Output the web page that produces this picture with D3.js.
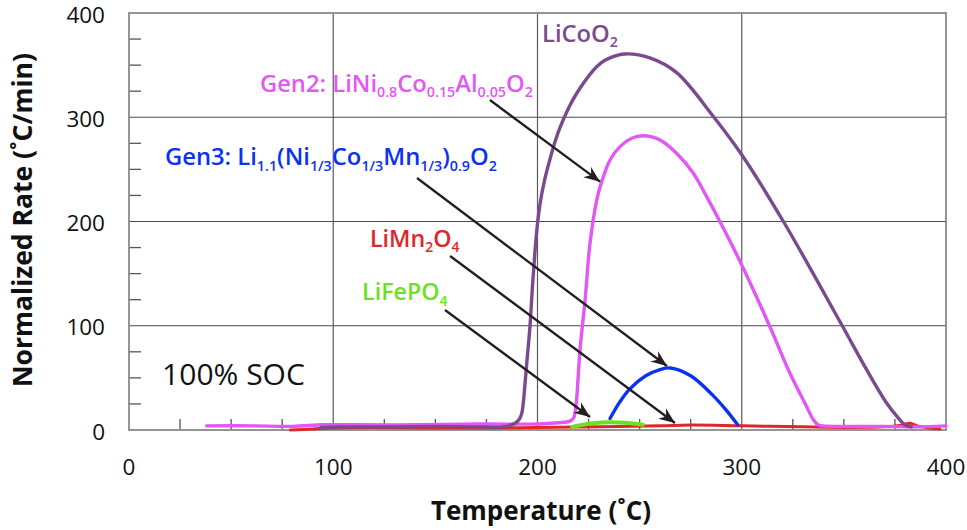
<!DOCTYPE html>
<html><head><meta charset="utf-8">
<script src="https://cdn.jsdelivr.net/npm/d3@7"></script>
<style>body{margin:0;background:#fff}svg{display:block}text{font-family:"Open Sans",sans-serif}</style>
</head><body><svg id="c" width="967" height="530"></svg>
<script>
// ---- data (temperature °C, normalized rate °C/min) ----
const xTicks = [0, 100, 200, 300, 400];
const yTicks = [0, 100, 200, 300, 400];
const minorStep = 25;
const licoo2 = [[94,2.5],[110,3],[130,3],[150,3.5],[170,3],[184,3.2],[189,6.4],[191,10],[192.3,16],[193.9,44.8],[195,70],[196.3,99],[197.6,140],[198.8,172],[200,198],[201.5,220],[203.5,240],[206,259],[208.5,276],[211,290],[215,308],[219.2,323],[227.3,345],[231,352],[235.5,357],[242.8,360.7],[255,357],[268,343],[286,301],[300,264],[320.4,200],[349,100.7],[361.2,57.6],[371,25.6],[376,13],[380,4.8],[383,3]];
const gen2 = [[38,4],[60,4],[80,3.5],[95,5],[110,5],[140,5],[172,5.7],[200.2,5.8],[210,7],[215.9,8.5],[217.8,12],[218.6,20],[219.2,30],[220.8,76.7],[223.3,124.7],[225.7,179],[229,220.6],[231.4,238],[235.5,259],[240.4,271.8],[246.1,279.8],[251.8,282.3],[260,278.2],[268.1,265.4],[276.3,246.2],[282.8,223.8],[289.3,200],[300,158.3],[313.8,99],[323.6,54.4],[331.8,22.4],[335,10],[337.5,4.8],[345,3.5],[370,3.5],[385,3],[400,4]];
const gen3 = [[235.5,11],[240,26],[245,39],[253,52],[260,58],[265,59.5],[275,52],[286,33],[292,20],[298,5]];
const limn2o4 = [[79,0],[90,1],[100,2],[120,2.5],[150,2],[180,2],[200,2.5],[230,3],[260,4],[275,4.8],[300,4],[330,3],[351,2.5],[370,3],[378,4.5],[382.4,6.4],[386,4],[392,2],[397,1]];
const lifepo4 = [[217,3],[225,6],[234,7.5],[243,7],[251.7,5]];
const seriesNames = ["LiMn2O4", "Gen2", "LiCoO2", "Gen3", "LiFePO4"];
const seriesData = [limn2o4, gen2, licoo2, gen3, lifepo4];
const seriesColors = ["#e1262a", "#e257f5", "#7b4a8e", "#0b32f0", "#6ce11f"];
const seriesWidths = [3, 3.4, 3.4, 3.4, 4];
// annotation arrows: [x0,y0,x1,y1] in data units
const arrows = [[176.7,316.5,230.6,238.2],[141,241.7,263.4,61.4],[157.2,166.9,267.3,6.7],[154.7,115.1,225.7,12.5]];

const svg = d3.select("#c");
const M = {l:129, r:946, t:13, b:430};
const x = d3.scaleLinear().domain([0,400]).range([M.l, M.r]);
const y = d3.scaleLinear().domain([0,400]).range([M.b, M.t]);

// grid
const g = svg.append("g");
g.selectAll(".hg").data(yTicks.filter(d=>d>0&&d<400)).join("line")
  .attr("x1",M.l).attr("x2",M.r).attr("y1",d=>y(d)).attr("y2",d=>y(d))
  .attr("stroke","#4a4a4a").attr("stroke-width",1.2);
g.selectAll(".vg").data(xTicks.filter(d=>d>0&&d<400)).join("line")
  .attr("y1",M.t).attr("y2",M.b).attr("x1",d=>x(d)).attr("x2",d=>x(d))
  .attr("stroke","#5a5a5a").attr("stroke-width",1.2);
const minor = d3.range(minorStep, 400, minorStep).filter(d=>d%100!==0);
g.selectAll(".mx").data(minor).join("line")
  .attr("x1",d=>x(d)).attr("x2",d=>x(d)).attr("y1",M.b).attr("y2",M.b-11)
  .attr("stroke","#555").attr("stroke-width",1.3);
g.selectAll(".my").data(minor).join("line")
  .attr("y1",d=>y(d)).attr("y2",d=>y(d)).attr("x1",M.l).attr("x2",M.l+12)
  .attr("stroke","#555").attr("stroke-width",1.3);
g.append("rect").attr("x",M.l).attr("y",M.t).attr("width",M.r-M.l).attr("height",M.b-M.t)
  .attr("fill","none").attr("stroke","#8a8a8a").attr("stroke-width",1.8);

// tick labels
svg.append("g").selectAll("text").data(xTicks).join("text")
  .attr("x",d=>x(d)).attr("y",475).attr("text-anchor","middle")
  .attr("font-size",22.5).attr("fill","#111").text(d=>d);
svg.append("g").selectAll("text").data(yTicks).join("text")
  .attr("x",105).attr("y",d=>y(d)+9.5).attr("text-anchor","end")
  .attr("font-size",22.5).attr("fill","#111").text(d=>d);

// curves
const line = d3.line().x(d=>x(d[0])).y(d=>y(d[1])).curve(d3.curveCatmullRom.alpha(0.5));
svg.append("g").selectAll("path").data(seriesData).join("path")
  .attr("d",line).attr("fill","none")
  .attr("stroke",(d,i)=>seriesColors[i]).attr("stroke-width",(d,i)=>seriesWidths[i])
  .attr("stroke-linecap","round").attr("stroke-linejoin","round");

// arrows
svg.append("defs").append("marker").attr("id","ah").attr("viewBox","-16 -7 18 14")
  .attr("refX",0).attr("refY",0).attr("markerWidth",18).attr("markerHeight",14)
  .attr("markerUnits","userSpaceOnUse").attr("orient","auto")
  .append("path").attr("d","M0,0 L-16,-6.5 L-11,0 L-16,6.5 Z").attr("fill","#231f20");
svg.append("g").selectAll("line").data(arrows).join("line")
  .attr("x1",d=>x(d[0])).attr("y1",d=>y(d[1])).attr("x2",d=>x(d[2])).attr("y2",d=>y(d[3]))
  .attr("stroke","#231f20").attr("stroke-width",2.3).attr("marker-end","url(#ah)");

// formula labels fitted to a target width
function build(tx, ty, parts, color, size){
  const t = svg.append("text").attr("x",x(tx)).attr("y",y(ty)).attr("fill",color)
    .attr("font-weight",600).attr("font-size",size);
  let down=false; const sh=size*0.24;
  parts.forEach(p=>{
    const s = t.append("tspan").text(p[0]);
    if(p[1]){ s.attr("font-size",(size*0.6).toFixed(2)); if(!down){s.attr("dy",sh.toFixed(2)); down=true;} }
    else if(down){ s.attr("dy",(-sh).toFixed(2)); down=false; }
  });
  return t;
}
function label(tx, ty, parts, color, w){
  let t = build(tx,ty,parts,color,22);
  const cw = t.node().getBBox().width; t.remove();
  return build(tx,ty,parts,color,22*w/cw);
}
label(202.2,372.5,[["LiCoO",0],["2",1]],"#7b4a8e",76);
label(64.1,324.5,[["Gen2: LiNi",0],["0.8",1],["Co",0],["0.15",1],["Al",0],["0.05",1],["O",0],["2",1]],"#e257f5",273);
label(17.6,254.2,[["Gen3: Li",0],["1.1",1],["(Ni",0],["1/3",1],["Co",0],["1/3",1],["Mn",0],["1/3",1],[")",0],["0.9",1],["O",0],["2",1]],"#0b32f0",332);
label(118,175.8,[["LiMn",0],["2",1],["O",0],["4",1]],"#e1262a",90);
label(114.1,124.7,[["LiFePO",0],["4",1]],"#6ce11f",86);

svg.append("text").attr("x",x(16.2)).attr("y",y(43.2)).attr("font-size",30).attr("fill","#111").text("100% SOC");

// axis titles
svg.append("text").attr("x",541).attr("y",520).attr("text-anchor","middle")
  .attr("font-weight",700).attr("font-size",26).attr("fill","#111").text("Temperature (˚C)");
svg.append("text").attr("transform","translate(32,220) rotate(-90)").attr("text-anchor","middle")
  .attr("font-weight",700).attr("font-size",26.5).attr("fill","#111").text("Normalized Rate (˚C/min)");
</script></body></html>
